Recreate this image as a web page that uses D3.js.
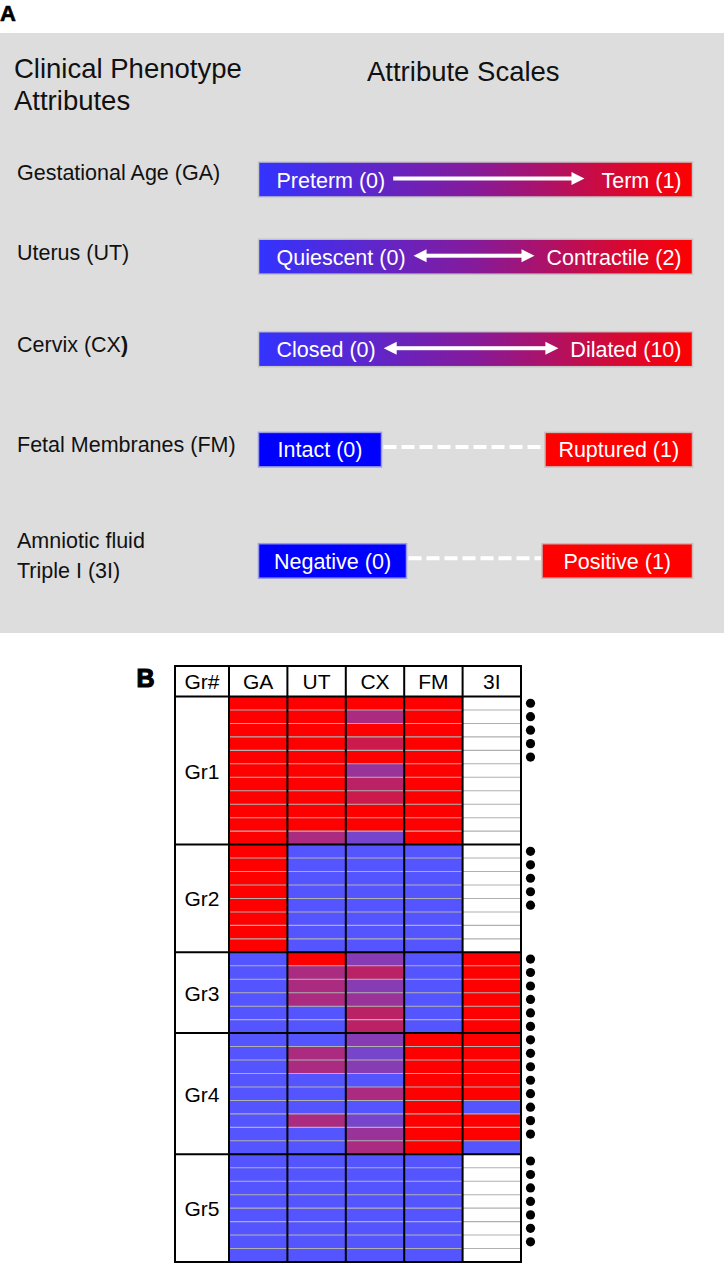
<!DOCTYPE html>
<html><head><meta charset="utf-8">
<script src="https://cdn.jsdelivr.net/npm/d3@7"></script>
<style>
body{margin:0;background:#fff}
svg{display:block}
text{font-family:"Liberation Sans",Arial,Helvetica,sans-serif}
</style>
</head><body>
<svg id="chart" width="724" height="1266"></svg>
<script>
// ---------- Panel A data ----------
const attributeLabels = [["Gestational Age (GA)"],["Uterus (UT)"],["Cervix (CX)"],["Fetal Membranes (FM)"],["Amniotic fluid","Triple I (3I)"]];
const scaleLow  = ["Preterm (0)","Quiescent (0)","Closed (0)","Intact (0)","Negative (0)"];
const scaleHigh = ["Term (1)","Contractile (2)","Dilated (10)","Ruptured (1)","Positive (1)"];
const scaleKind = ["oneway","twoway","twoway","binary","binary"];

// ---------- Panel B data ----------
const groups = ["Gr1","Gr2","Gr3","Gr4","Gr5"];
const rowsPerGroup = [11,8,6,9,8];
const attributes = ["GA","UT","CX","FM","3I"];
const attributeMax = [1,2,10,1,1];
const gaValues = [1,1,1,1,1,1,1,1,1,1,1, 1,1,1,1,1,1,1,1, 0,0,0,0,0,0, 0,0,0,0,0,0,0,0,0, 0,0,0,0,0,0,0,0];
const utValues = [2,2,2,2,2,2,2,2,2,2,1, 0,0,0,0,0,0,0,0, 2,1,1,1,0,0, 0,1,1,0,0,0,1,0,0, 0,0,0,0,0,0,0,0];
const cxValues = [10,5,10,7,10,4,6,7,10,10,2, 0,0,0,0,0,0,0,0, 3,6,3,4,6,6, 3,2,3,0,5,0,2,4,5, 0,0,0,0,0,0,0,0];
const fmValues = [1,1,1,1,1,1,1,1,1,1,1, 0,0,0,0,0,0,0,0, 0,0,0,0,0,0, 1,1,1,1,1,1,1,1,1, 0,0,0,0,0,0,0,0];
const tiValues = [null,null,null,null,null,null,null,null,null,null,null, null,null,null,null,null,null,null,null, 1,1,1,1,1,1, 1,1,1,1,1,0,1,1,0, null,null,null,null,null,null,null,null];
const dotFlags = [1,1,1,1,1,0,0,0,0,0,0, 1,1,1,1,1,0,0,0, 1,1,1,1,1,1, 1,1,1,1,1,1,1,1,0, 1,1,1,1,1,1,1,0];

const svg = d3.select("#chart");
const defs = svg.append("defs");
const grad = defs.append("linearGradient").attr("id","scaleGrad").attr("x1","0%").attr("x2","100%");
grad.append("stop").attr("offset","0%").attr("stop-color","#3333ff");
grad.append("stop").attr("offset","50%").attr("stop-color","#861a9a");
grad.append("stop").attr("offset","100%").attr("stop-color","#ff0000");

// ================= Panel A =================
svg.append("text").attr("x",0).attr("y",20.5).attr("font-size",22).attr("font-weight","bold")
  .attr("stroke","#000").attr("stroke-width",0.6).text("A");
svg.append("rect").attr("x",0).attr("y",33).attr("width",724).attr("height",600).attr("fill","#dddddd");

svg.append("text").attr("x",14).attr("y",78).attr("font-size",27.5).attr("fill","#111").text("Clinical Phenotype");
svg.append("text").attr("x",14).attr("y",110).attr("font-size",27.5).attr("fill","#111").text("Attributes");
svg.append("text").attr("x",367).attr("y",81).attr("font-size",27.5).attr("fill","#111").text("Attribute Scales");

const rowCenter = [179.5, 256.7, 349.2, 449.4, 560.7];
const labelBaselines = [[180],[260],[352],[452],[548,578]];
const barLeft = 258.5, barRight = 692.5, barH = 35;
const lowBoxW = [0,0,0,123,148];
const highBoxW = [0,0,0,147.5,150.5];
const fs = 21.5;

attributeLabels.forEach((lines,i)=>{
  lines.forEach((ln,j)=>{
    const t = svg.append("text").attr("x",17).attr("y",labelBaselines[i][j]).attr("font-size",fs).attr("fill","#111");
    if (ln.endsWith("(CX)")) {
      t.append("tspan").text(ln.slice(0,-1));
      t.append("tspan").attr("font-weight","bold").text(")");
    } else t.text(ln);
  });
});

function arrow(g, x1, x2, y, both){
  const hl = 13, hw = 6.5, th = 2;
  const s = both ? x1 + hl - 1 : x1;
  g.append("rect").attr("x",s).attr("y",y-th).attr("width",(x2-hl+1)-s).attr("height",th*2).attr("fill","#fff");
  g.append("path").attr("d",`M${x2},${y} L${x2-hl},${y-hw} L${x2-hl},${y+hw} Z`).attr("fill","#fff");
  if (both) g.append("path").attr("d",`M${x1},${y} L${x1+hl},${y-hw} L${x1+hl},${y+hw} Z`).attr("fill","#fff");
}

scaleKind.forEach((kind,i)=>{
  const cy = rowCenter[i];
  const g = svg.append("g");
  if (kind !== "binary") {
    g.append("rect").attr("x",barLeft).attr("y",cy-barH/2).attr("width",barRight-barLeft).attr("height",barH)
      .attr("fill","url(#scaleGrad)").attr("stroke","#c6c6c6").attr("stroke-width",1.5);
    const lo = g.append("text").attr("x",barLeft+18).attr("y",cy+8).attr("font-size",fs).attr("fill","#fff").text(scaleLow[i]);
    const hi = g.append("text").attr("x",barRight-11).attr("y",cy+8).attr("font-size",fs).attr("fill","#fff").attr("text-anchor","end").text(scaleHigh[i]);
    const loEnd = barLeft+18+lo.node().getComputedTextLength();
    const hiStart = barRight-11-hi.node().getComputedTextLength();
    arrow(g, loEnd+8, hiStart-(kind==="oneway"?17:12), cy-1, kind==="twoway");
  } else {
    const lw = lowBoxW[i], hw = highBoxW[i];
    g.append("rect").attr("x",barLeft).attr("y",cy-17).attr("width",lw).attr("height",34.5)
      .attr("fill","#0000ff").attr("stroke","#9a9ae6").attr("stroke-width",1.5);
    g.append("rect").attr("x",barRight-hw).attr("y",cy-17).attr("width",hw).attr("height",34.5)
      .attr("fill","#ff0000").attr("stroke","#cdb8b8").attr("stroke-width",1.5);
    g.append("text").attr("x",barLeft+lw/2).attr("y",cy+8).attr("font-size",fs).attr("fill","#fff").attr("text-anchor","middle").text(scaleLow[i]);
    g.append("text").attr("x",barRight-hw/2).attr("y",cy+8).attr("font-size",fs).attr("fill","#fff").attr("text-anchor","middle").text(scaleHigh[i]);
    g.append("line").attr("x1",barLeft+lw+2).attr("x2",barRight-hw-1).attr("y1",cy-2.5).attr("y2",cy-2.5)
      .attr("stroke","#fff").attr("stroke-width",4).attr("stroke-dasharray","13,5");
  }
});

// ================= Panel B =================
svg.append("text").attr("x",136.5).attr("y",687).attr("font-size",25).attr("font-weight","bold")
  .attr("stroke","#000").attr("stroke-width",1.2).text("B");

const nRows = d3.sum(rowsPerGroup);
const groupStartArr = Array.from(d3.cumsum([0].concat(rowsPerGroup))); // [0,11,19,25,34,42]

const tableLeft = 175, headTop = 666, headBottom = 696.5;
const x = d3.scaleBand().domain(attributes).range([229, 521]);
const y = d3.scaleLinear().domain([0, nRows]).range([headBottom, 1262]);
const color = d3.scaleLinear().domain([0,1]).range(["#5555ff","#ff0000"]).interpolate(d3.interpolateRgb);

const seriesValues = [gaValues, utValues, cxValues, fmValues, tiValues];
const cells = [];
for (let r=0;r<nRows;r++){
  attributes.forEach((a,ai)=>{
    cells.push({r, a, v: seriesValues[ai][r], max: attributeMax[ai]});
  });
}

const B = svg.append("g");
B.append("rect").attr("x",tableLeft).attr("y",headTop).attr("width",521-tableLeft).attr("height",1262-headTop).attr("fill","#fff");

B.selectAll("rect.cell").data(cells).join("rect").attr("class","cell")
  .attr("x",d=>x(d.a)).attr("y",d=>y(d.r)).attr("width",x.bandwidth()).attr("height",d=>y(d.r+1)-y(d.r)+0.3)
  .attr("fill",d=>d.v==null ? "#ffffff" : color(d.v/d.max));

// thin row separators
const inner = d3.range(nRows).filter(r=>!groupStartArr.includes(r));
B.selectAll("line.sep").data(inner).join("line").attr("class","sep")
  .attr("x1",229).attr("x2",521).attr("y1",d=>y(d)).attr("y2",d=>y(d))
  .attr("stroke","#b0b0b0").attr("stroke-width",1.1);

// black grid
const vx = [tableLeft, 229].concat(attributes.map(a=>x(a)+x.bandwidth()));
B.selectAll("line.v").data(vx).join("line").attr("class","v")
  .attr("x1",d=>d).attr("x2",d=>d).attr("y1",headTop).attr("y2",1262)
  .attr("stroke","#000").attr("stroke-width",2);
const hy = [headTop].concat(groupStartArr.map(s=>y(s)));
B.selectAll("line.h").data(hy).join("line").attr("class","h")
  .attr("x1",tableLeft-1).attr("x2",522).attr("y1",d=>d).attr("y2",d=>d)
  .attr("stroke","#000").attr("stroke-width",2);

// header text
B.append("text").attr("x",(tableLeft+229)/2).attr("y",689).attr("text-anchor","middle").attr("font-size",21).text("Gr#");
B.selectAll("text.hd").data(attributes).join("text").attr("class","hd")
  .attr("x",d=>x(d)+x.bandwidth()/2).attr("y",689).attr("text-anchor","middle").attr("font-size",21).text(d=>d);

// group labels
B.selectAll("text.gl").data(groups).join("text").attr("class","gl")
  .attr("x",(tableLeft+229)/2).attr("y",(d,i)=>(y(groupStartArr[i])+y(groupStartArr[i+1]))/2+8)
  .attr("text-anchor","middle").attr("font-size",21).text(d=>d);

// dots
B.selectAll("circle.dot").data(d3.range(nRows).filter(r=>dotFlags[r])).join("circle").attr("class","dot")
  .attr("cx",530.5).attr("cy",r=>(y(r)+y(r+1))/2).attr("r",4.6).attr("fill","#000");
</script>
</body></html>
